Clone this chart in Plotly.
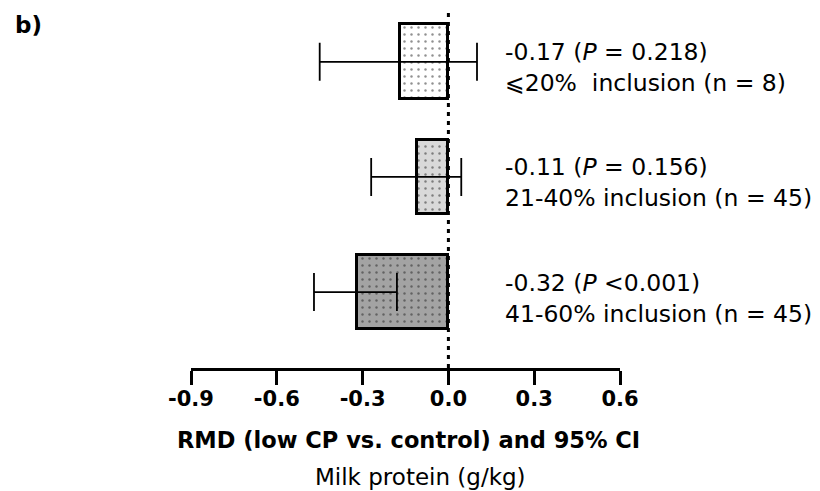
import plotly.graph_objects as go

# Data (top to bottom in the picture)
groups = ["≤20%", "21-40%", "41-60%"]
rmd = [-0.17, -0.11, -0.32]
ci_low = [-0.45, -0.27, -0.47]
ci_high = [0.10, 0.045, -0.18]
p_text = ["= 0.218", "= 0.156", "<0.001"]
labels = ["⩽20%  inclusion (n = 8)", "21-40% inclusion (n = 45)", "41-60% inclusion (n = 45)"]
fills = ["#ffffff", "#d9d9d9", "#a3a3a3"]
ypos = [2, 1, 0]
x_ticks = [-0.9, -0.6, -0.3, 0.0, 0.3, 0.6]

FONT = "DejaVu Sans, Arial"

fig = go.Figure()
for i in range(3):
    fig.add_trace(go.Bar(
        x=[rmd[i]], y=[ypos[i]], orientation="h", width=0.65,
        marker=dict(color=fills[i], line=dict(color="black", width=3),
                    pattern=dict(shape=".", fgcolor="#222222", bgcolor=fills[i], size=7, solidity=0.1)),
        error_x=dict(type="data", symmetric=False,
                     array=[ci_high[i] - rmd[i]], arrayminus=[rmd[i] - ci_low[i]],
                     color="black", thickness=1.8, width=19),
        showlegend=False, hoverinfo="skip"))

fig.add_shape(type="line", x0=0, x1=0, y0=-0.66, y1=2.45, xref="x", yref="y",
              line=dict(color="black", width=3, dash="4px,5px"), layer="above")

for i in range(3):
    fig.add_annotation(x=0.19, xref="x", xanchor="left", y=ypos[i], yref="y",
                       yanchor="middle", yshift=-6, align="left", showarrow=False,
                       text=f"{rmd[i]:.2f} (<i>P</i> {p_text[i]})<br>{labels[i]}",
                       font=dict(family=FONT, size=23.5, color="black"))

fig.add_annotation(x=0, xref="paper", xanchor="left", y=1, yref="paper", yanchor="top",
                   xshift=-178, yshift=0, showarrow=False, text="<b>b)</b>",
                   font=dict(family=FONT, size=23, color="black"))
fig.add_annotation(x=0.508, xref="paper", xanchor="center", y=0, yref="paper", yanchor="middle",
                   yshift=-72, showarrow=False, text="<b>RMD (low CP vs. control) and 95% CI</b>",
                   font=dict(family=FONT, size=22.5, color="black"))
fig.add_annotation(x=0.534, xref="paper", xanchor="center", y=0, yref="paper", yanchor="middle",
                   yshift=-109, showarrow=False, text="Milk protein (g/kg)",
                   font=dict(family=FONT, size=23, color="black"))

fig.update_layout(
    width=820, height=491,
    margin=dict(l=191, r=200, t=10, b=123),
    plot_bgcolor="white", paper_bgcolor="white",
    bargap=0,
    xaxis=dict(range=[-0.9, 0.6], tickvals=x_ticks, ticktext=[f"<b>{v:.1f}</b>" for v in x_ticks],
               showline=True, linecolor="black", linewidth=3, ticks="outside", ticklen=14,
               tickwidth=3, tickcolor="black", showgrid=False, zeroline=False,
               ticklabelstandoff=-4,
               tickfont=dict(family=FONT, size=21, color="black")),
    yaxis=dict(range=[-0.66, 2.45], visible=False, showgrid=False, zeroline=False),
)

fig.write_html("out.html")
